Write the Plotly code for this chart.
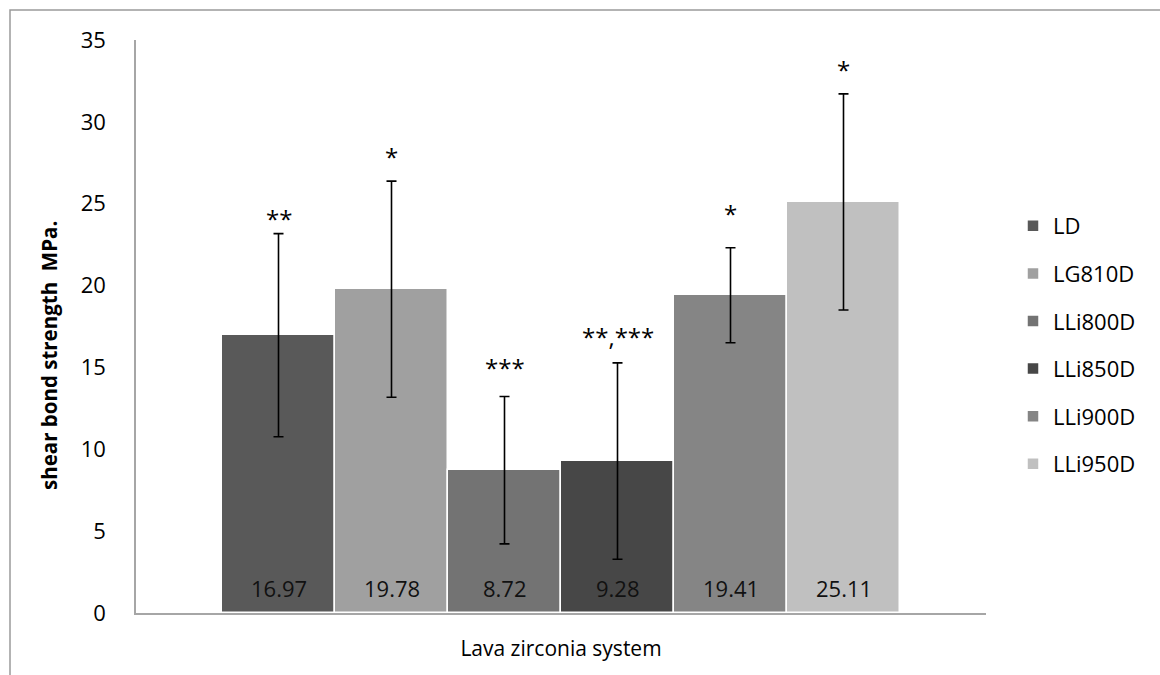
import plotly.graph_objects as go

groups = ["LD", "LG810D", "LLi800D", "LLi850D", "LLi900D", "LLi950D"]
means = [16.97, 19.78, 8.72, 9.28, 19.41, 25.11]
sds = [6.2, 6.6, 4.5, 6.0, 2.9, 6.6]
sig_labels = ["**", "*", "***", "**,***", "*", "*"]
sig_y = [24.1, 27.9, 15.0, 16.9, 24.4, 33.2]
colors = ["#595959", "#a0a0a0", "#737373", "#474747", "#858585", "#c0c0c0"]

FONT = "Open Sans"

fig = go.Figure()
for i, g in enumerate(groups):
    fig.add_trace(go.Bar(
        x=[g], y=[means[i]], name=g, legendgroup=g,
        marker=dict(color=colors[i], line=dict(color="white", width=1.5)),
        error_y=dict(type="data", array=[sds[i]], color="black", thickness=1.6, width=5),
    ))
    fig.add_annotation(x=g, y=sig_y[i], text=sig_labels[i], showarrow=False,
                       font=dict(size=24, color="black", family=FONT),
                       xanchor="center", yanchor="middle")
    fig.add_annotation(x=g, y=0, yshift=25, text=f"{means[i]:.2f}", showarrow=False,
                       font=dict(size=22, color="#111111", family=FONT),
                       xanchor="center", yanchor="middle")

W, H = 1160, 675
L, R, T, B = 136, 986, 40, 613
pw, ph = R - L, B - T

fig.add_shape(type="rect", xref="paper", yref="paper",
              x0=(10 - L) / pw, x1=(1300 - L) / pw,
              y0=(B - 800) / ph, y1=(B - 10) / ph,
              line=dict(color="#9a9a9a", width=1.5), fillcolor="rgba(0,0,0,0)", layer="below")

fig.add_annotation(xref="paper", yref="paper", x=(49 - L) / pw, y=(B - 356) / ph,
                   text="<b>shear bond strength\u00a0 MPa.</b>", textangle=-90, showarrow=False,
                   font=dict(size=20.5, family=FONT, color="black"),
                   xanchor="center", yanchor="middle")

n_extra = 86 / 113
fig.update_layout(
    width=W, height=H,
    margin=dict(l=L, r=W - R, t=T, b=H - B, autoexpand=False),
    paper_bgcolor="white", plot_bgcolor="white",
    barmode="overlay", bargap=0,
    font=dict(family=FONT, size=22, color="black"),
    xaxis=dict(range=[-0.5 - n_extra, 5.5 + n_extra], showticklabels=False, ticks="",
               showline=True, linecolor="#a6a6a6", linewidth=1.5, showgrid=False, zeroline=False,
               title=dict(text="Lava zirconia system", font=dict(size=21, family=FONT), standoff=28)),
    yaxis=dict(range=[0, 35], dtick=5, tick0=0, showline=True, linecolor="#a6a6a6", linewidth=1.5,
               showgrid=False, zeroline=False, ticks="", ticklabelstandoff=24,
               tickfont=dict(size=22, family=FONT)),
    legend=dict(x=(1013 - L) / pw, y=(B - 205) / ph, xanchor="left", yanchor="top",
                font=dict(size=22, family=FONT), tracegroupgap=16, traceorder="grouped",
                itemwidth=30, bgcolor="rgba(0,0,0,0)"),
    showlegend=True,
)

fig.write_html("out.html")
